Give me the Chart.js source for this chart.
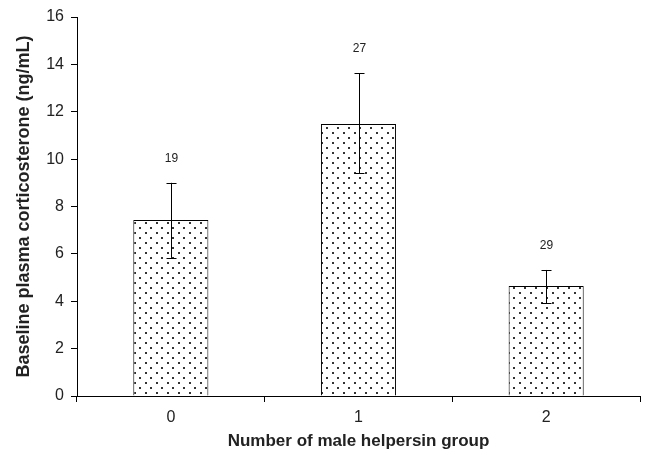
<!DOCTYPE html>
<html>
<head>
<meta charset="utf-8">
<script src="https://cdn.jsdelivr.net/npm/chart.js@4/dist/chart.umd.min.js"></script>
<style>
  html, body { margin: 0; padding: 0; background: #fff; }
  #wrap { width: 648px; height: 455px; }
</style>
</head>
<body>
<div id="wrap"><canvas id="c" width="648" height="455"></canvas></div>
<script>
// Mean baseline corticosterone by number of male helpers in the group
const categories = ['0', '1', '2'];
const means = [7.43, 11.48, 4.64];
const errUpper = [9.0, 13.63, 5.32];
const errLower = [5.83, 9.41, 3.92];
const sampleSizes = ['19', '27', '29'];
const yTicks = [0, 2, 4, 6, 8, 10, 12, 14, 16];

const FONT = '"Liberation Sans", Arial, sans-serif';

// Stippled fill for the bars
function dotPattern() {
  const t = document.createElement('canvas');
  t.width = 11; t.height = 10;
  const g = t.getContext('2d');
  g.fillStyle = '#ffffff';
  g.fillRect(0, 0, 11, 10);
  g.fillStyle = '#333333';
  g.fillRect(2, 2, 2, 2);
  g.fillRect(7, 7, 2, 2);
  return g.createPattern(t, 'repeat');
}

const ctx = document.getElementById('c').getContext('2d');

// Error whiskers and sample-size labels above each bar
const errorBars = {
  id: 'errorBars',
  afterDatasetsDraw(chart) {
    const { ctx } = chart;
    const x = chart.scales.x, y = chart.scales.y;
    ctx.save();
    ctx.strokeStyle = '#000';
    ctx.lineWidth = 1;
    categories.forEach((c, i) => {
      const px = Math.round(x.getPixelForValue(i)) + 0.5;
      const top = y.getPixelForValue(errUpper[i]);
      const bot = y.getPixelForValue(errLower[i]);
      ctx.beginPath();
      ctx.moveTo(px, top); ctx.lineTo(px, bot);
      ctx.moveTo(px - 5, Math.round(top) + 0.5); ctx.lineTo(px + 5, Math.round(top) + 0.5);
      ctx.moveTo(px - 5, Math.round(bot) + 0.5); ctx.lineTo(px + 5, Math.round(bot) + 0.5);
      ctx.stroke();
      ctx.fillStyle = '#222';
      ctx.font = '12px ' + FONT;
      ctx.textAlign = 'center';
      ctx.textBaseline = 'middle';
      ctx.fillText(sampleSizes[i], px, top - 24);
    });
    ctx.restore();
  }
};

new Chart(ctx, {
  type: 'bar',
  data: {
    labels: categories,
    datasets: [{
      data: means,
      backgroundColor: dotPattern(),
      borderColor: '#000',
      borderWidth: 1,
      borderSkipped: 'bottom',
      barPercentage: 0.4,
      categoryPercentage: 1.0
    }]
  },
  options: {
    responsive: false,
    animation: false,
    layout: { padding: { left: 0, right: 8, top: 17, bottom: 0 } },
    plugins: { legend: { display: false }, tooltip: { enabled: false } },
    scales: {
      x: {
        grid: { offset: true, drawOnChartArea: false, drawTicks: true, tickLength: 6, color: '#000' },
        border: { color: '#000', width: 1 },
        ticks: { color: '#222', font: { family: FONT, size: 16 }, padding: 6 },
        title: {
          display: true,
          text: 'Number of male helpersin group',
          color: '#222',
          font: { family: FONT, size: 17, weight: 'bold' },
          padding: { top: 4, bottom: 3 }
        },
        afterFit(s) { s.height = 59; }
      },
      y: {
        min: 0, max: 16,
        afterBuildTicks(s) { s.ticks = yTicks.map(v => ({ value: v })); },
        grid: { drawOnChartArea: false, drawTicks: true, tickLength: 6, color: '#000' },
        border: { color: '#000', width: 1 },
        ticks: { color: '#222', font: { family: FONT, size: 16 }, padding: 7 },
        title: {
          display: true,
          text: 'Baseline plasma corticosterone (ng/mL)',
          color: '#222',
          font: { family: FONT, size: 18, weight: 'bold' },
          padding: { top: 13, bottom: 4 }
        },
        afterFit(s) { s.width = 77; }
      }
    }
  },
  plugins: [errorBars]
});
</script>
</body>
</html>
